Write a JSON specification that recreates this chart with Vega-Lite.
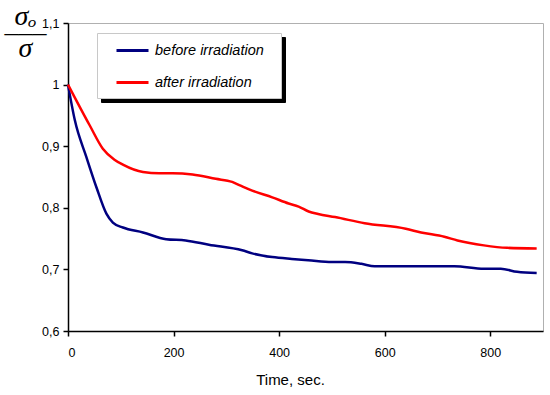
{
  "$schema": "https://vega.github.io/schema/vega-lite/v6.json",
  "width": 475,
  "height": 308,
  "autosize": {"type": "none"},
  "padding": {"left": 68, "top": 23, "right": 7, "bottom": 64},
  "background": "white",
  "config": {
    "view": {"stroke": "#b0b0b0", "strokeWidth": 1},
    "font": "Liberation Sans"
  },
  "data": {
    "values": [
      {"t": 0, "v": 1.0, "series": "before irradiation"},
      {"t": 13, "v": 0.942, "series": "before irradiation"},
      {"t": 35, "v": 0.882, "series": "before irradiation"},
      {"t": 54, "v": 0.833, "series": "before irradiation"},
      {"t": 73, "v": 0.79, "series": "before irradiation"},
      {"t": 85, "v": 0.776, "series": "before irradiation"},
      {"t": 104, "v": 0.768, "series": "before irradiation"},
      {"t": 142, "v": 0.76, "series": "before irradiation"},
      {"t": 186, "v": 0.749, "series": "before irradiation"},
      {"t": 223, "v": 0.747, "series": "before irradiation"},
      {"t": 267, "v": 0.74, "series": "before irradiation"},
      {"t": 330, "v": 0.731, "series": "before irradiation"},
      {"t": 349, "v": 0.726, "series": "before irradiation"},
      {"t": 387, "v": 0.72, "series": "before irradiation"},
      {"t": 424, "v": 0.717, "series": "before irradiation"},
      {"t": 455, "v": 0.715, "series": "before irradiation"},
      {"t": 500, "v": 0.712, "series": "before irradiation"},
      {"t": 525, "v": 0.712, "series": "before irradiation"},
      {"t": 556, "v": 0.709, "series": "before irradiation"},
      {"t": 581, "v": 0.705, "series": "before irradiation"},
      {"t": 732, "v": 0.705, "series": "before irradiation"},
      {"t": 788, "v": 0.701, "series": "before irradiation"},
      {"t": 820, "v": 0.701, "series": "before irradiation"},
      {"t": 851, "v": 0.696, "series": "before irradiation"},
      {"t": 888, "v": 0.694, "series": "before irradiation"},
      {"t": 0, "v": 1.0, "series": "after irradiation"},
      {"t": 41, "v": 0.934, "series": "after irradiation"},
      {"t": 66, "v": 0.896, "series": "after irradiation"},
      {"t": 88, "v": 0.878, "series": "after irradiation"},
      {"t": 104, "v": 0.87, "series": "after irradiation"},
      {"t": 142, "v": 0.858, "series": "after irradiation"},
      {"t": 173, "v": 0.856, "series": "after irradiation"},
      {"t": 198, "v": 0.856, "series": "after irradiation"},
      {"t": 236, "v": 0.854, "series": "after irradiation"},
      {"t": 280, "v": 0.847, "series": "after irradiation"},
      {"t": 311, "v": 0.842, "series": "after irradiation"},
      {"t": 327, "v": 0.836, "series": "after irradiation"},
      {"t": 349, "v": 0.828, "series": "after irradiation"},
      {"t": 387, "v": 0.817, "series": "after irradiation"},
      {"t": 418, "v": 0.807, "series": "after irradiation"},
      {"t": 437, "v": 0.802, "series": "after irradiation"},
      {"t": 456, "v": 0.794, "series": "after irradiation"},
      {"t": 474, "v": 0.79, "series": "after irradiation"},
      {"t": 506, "v": 0.785, "series": "after irradiation"},
      {"t": 562, "v": 0.775, "series": "after irradiation"},
      {"t": 640, "v": 0.766, "series": "after irradiation"},
      {"t": 669, "v": 0.76, "series": "after irradiation"},
      {"t": 713, "v": 0.753, "series": "after irradiation"},
      {"t": 738, "v": 0.747, "series": "after irradiation"},
      {"t": 788, "v": 0.739, "series": "after irradiation"},
      {"t": 832, "v": 0.735, "series": "after irradiation"},
      {"t": 888, "v": 0.734, "series": "after irradiation"}
    ]
  },
  "layer": [
    {
      "mark": {"type": "line", "opacity": 0},
      "encoding": {
        "x": {"field": "t", "type": "quantitative"},
        "y": {"field": "v", "type": "quantitative"},
        "color": {
          "field": "series",
          "type": "nominal",
          "scale": {"domain": ["after irradiation", "before irradiation"], "range": ["black", "black"]},
          "legend": {
            "title": ["\u00a0", "\u00a0", "\u00a0", "\u00a0", "\u00a0"],
            "titleOrient": "right",
            "titleFontSize": 12,
            "titleLineHeight": 15.2,
            "titlePadding": 17,
            "orient": "none",
            "legendX": 33,
            "legendY": 14,
            "zindex": 0,
            "fillColor": "black",
            "strokeColor": "black",
            "padding": 0,
            "symbolType": "stroke",
            "symbolSize": 1024,
            "symbolStrokeWidth": 3,
            "symbolOffset": 18,
            "rowPadding": 8,
            "labelOffset": 5,
            "labelFont": "Liberation Sans",
            "labelFontStyle": "italic",
            "labelFontSize": 14.5,
            "labelColor": "black"
          }
        }
      }
    },
    {
      "mark": {"type": "line", "strokeWidth": 2.5, "interpolate": "monotone"},
      "encoding": {
        "x": {
          "field": "t",
          "type": "quantitative",
          "scale": {"domain": [0, 900], "nice": false, "zero": false},
          "axis": {
            "values": [0, 200, 400, 600, 800],
            "title": "Time, sec.",
            "grid": false,
            "domainColor": "black",
            "domainWidth": 1.5,
            "tickColor": "black",
            "tickWidth": 1.5,
            "tickSize": 5,
            "labelFontSize": 12.5,
            "labelColor": "black",
            "labelPadding": 10,
            "labelFont": "Liberation Sans",
            "titleFont": "Liberation Sans",
            "titleFontSize": 15,
            "titleFontWeight": "normal",
            "titleColor": "black",
            "titlePadding": 14,
            "titleX": 222
          }
        },
        "y": {
          "field": "v",
          "type": "quantitative",
          "scale": {"domain": [0.6, 1.1], "nice": false, "zero": false},
          "axis": {
            "values": [0.6, 0.7, 0.8, 0.9, 1.0, 1.1],
            "labelExpr": "replace(format(datum.value, '.1~f'), '.', ',')",
            "grid": false,
            "domainColor": "black",
            "domainWidth": 1.5,
            "tickColor": "black",
            "tickWidth": 1.5,
            "tickSize": 5,
            "labelFontSize": 12.5,
            "labelColor": "black",
            "labelPadding": 4,
            "labelFont": "Liberation Sans",
            "title": ["σₒ", "–––", "σ"],
            "titleFont": "Liberation Serif",
            "titleFontStyle": "italic",
            "titleFontSize": 28,
            "titleFontWeight": "normal",
            "titleColor": "black",
            "titleAngle": 0,
            "titleAlign": "center",
            "titleBaseline": "top",
            "titleLineHeight": 16,
            "titleX": -43,
            "titleY": -21
          }
        },
        "stroke": {
          "field": "series",
          "type": "nominal",
          "scale": {"domain": ["before irradiation", "after irradiation"], "range": ["#000080", "#ff0000"]},
          "legend": {
            "title": ["\u00a0", "\u00a0", "\u00a0", "\u00a0", "\u00a0"],
            "titleOrient": "right",
            "titleFontSize": 12,
            "titleLineHeight": 15.2,
            "titlePadding": 17,
            "orient": "none",
            "legendX": 29,
            "legendY": 10,
            "zindex": 1,
            "fillColor": "white",
            "strokeColor": "#c8c8c8",
            "padding": 0,
            "symbolType": "stroke",
            "symbolSize": 1024,
            "symbolStrokeWidth": 3,
            "symbolOffset": 18,
            "rowPadding": 8,
            "labelOffset": 5,
            "labelFont": "Liberation Sans",
            "labelFontStyle": "italic",
            "labelFontSize": 14.5,
            "labelColor": "black"
          }
        }
      }
    }
  ]
}
